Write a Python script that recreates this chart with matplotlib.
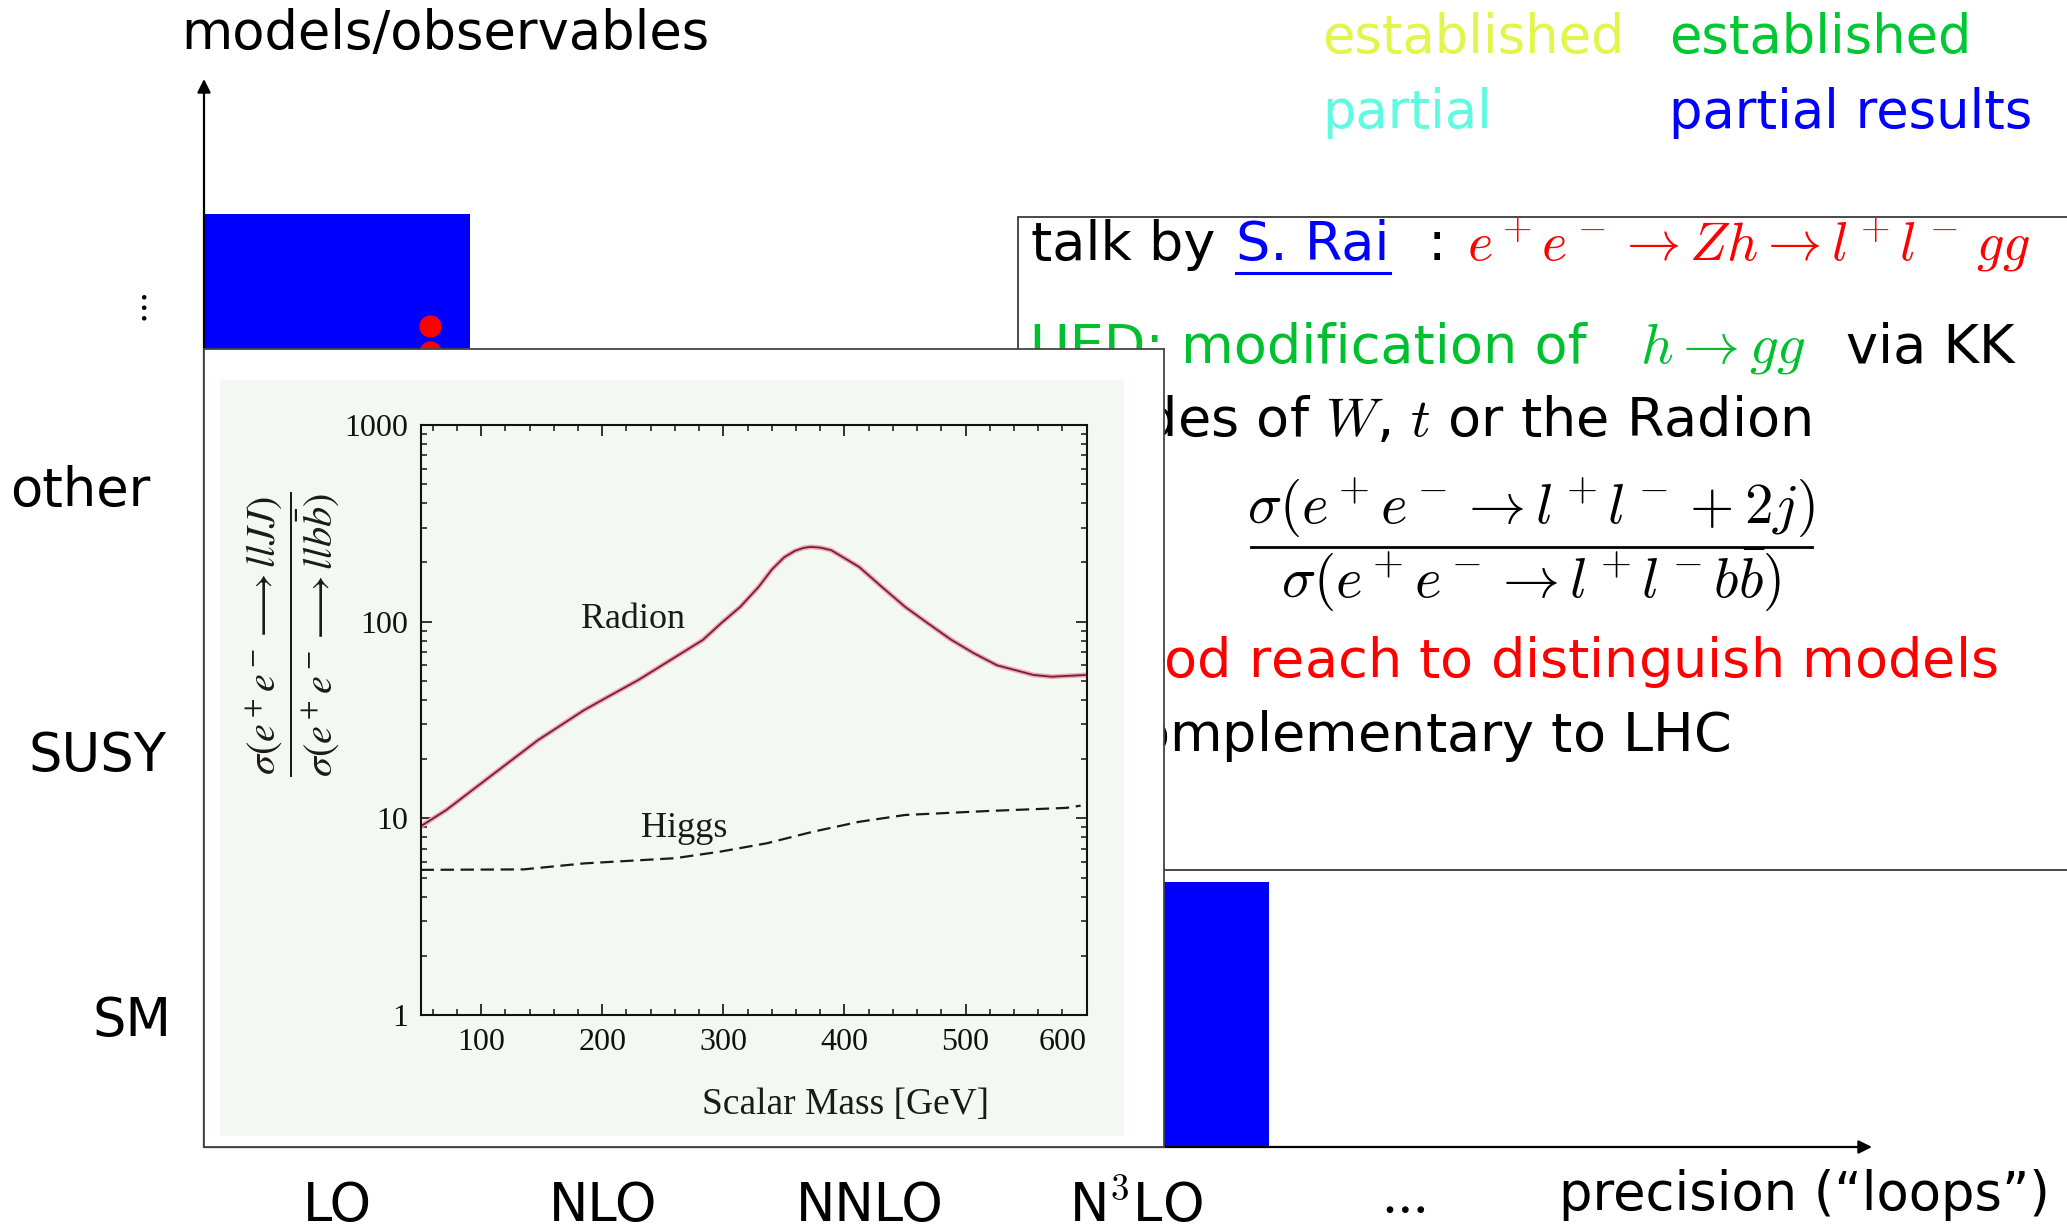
import numpy as np
import matplotlib
matplotlib.use('Agg')
import matplotlib.pyplot as plt
from matplotlib.lines import Line2D
from matplotlib.patches import Rectangle
from matplotlib.ticker import MultipleLocator, NullFormatter

plt.rcParams['font.family'] = ['DejaVu Sans']
plt.rcParams['mathtext.fontset'] = 'cm'

# ---- data ----
columns = ['LO', 'NLO', 'NNLO', r'N$^3$LO', r'$\cdots$']
rows = ['SM', 'SUSY', 'other', r'$\vdots$']

# blue cells (column index, top of the cell in row units)
bar_col = [0, 3]
bar_top = [3.52, 1.0]

# red dots in the LO column
dot_x = [0.85, 0.85]
dot_y = [3.10, 3.00]

legend_text = ['established', 'established', 'partial', 'partial results']
legend_col = ['#e1f54b', '#00c832', '#5ffae1', '#0000ff']

# inset: sigma ratio vs scalar mass
mass_radion = [50, 71, 109, 147, 185, 200, 230, 283, 298, 314, 329, 340, 350, 359, 366, 372,
               380, 389, 412, 431, 450, 469, 488, 507, 526, 556, 571, 600]
ratio_radion = [9.1, 11.0, 16.6, 25, 35.5, 40, 50.6, 80.7, 98, 119, 150, 184, 212, 229, 237, 240,
                238, 231, 190, 150, 119, 98, 81, 69, 60, 53.6, 52.5, 53.6]
mass_higgs = [50, 135, 185, 260, 298, 336, 374, 412, 450, 519, 583, 595]
ratio_higgs = [5.47, 5.5, 5.9, 6.27, 6.78, 7.47, 8.55, 9.6, 10.4, 10.9, 11.3, 11.6]
mass_ticks = [100, 200, 300, 400, 500, 600]
ratio_ticks = [1, 10, 100, 1000]

# ---- layout helpers (pixel coords, origin top-left) ----
W, H = 2067, 1229
def box(x0, y0, x1, y1):
    return [x0 / W, 1 - y1 / H, (x1 - x0) / W, (y1 - y0) / H]
def pt(x, y):
    return x / W, 1 - y / H

fig = plt.figure(figsize=(W / 100, H / 100), dpi=100)
fig.patch.set_facecolor('white')

FS = 38      # slide text
FS_BOX = 39  # text in the box
FS_MATH = 41

def ftext(x, y, s, **kw):
    kw.setdefault('va', 'baseline')
    kw.setdefault('fontsize', FS)
    return fig.text(*pt(x, y), s, **kw)

# ---- main "chart" ----
col_w, row_h = 266.3, 265.0
ax = fig.add_axes(box(204, 79, 1872, 1147))
ax.set_xlim(0, 1668 / col_w)
ax.set_ylim(0, 1068 / row_h)
ax.axis('off')
arrow = dict(arrowstyle='-|>', color='black', lw=1.6, mutation_scale=20, shrinkA=0, shrinkB=0)
ax.annotate('', xy=(0, 1), xytext=(0, 0), xycoords='axes fraction', arrowprops=arrow)
ax.annotate('', xy=(1, 0), xytext=(0, 0), xycoords='axes fraction', arrowprops=arrow)

ax.bar(bar_col, bar_top, width=1.0, align='edge', color='#0000ff', zorder=1)
ax.plot(dot_x, dot_y, 'o', color='red', ms=15, zorder=2)

lab_base = (1147 - 1221) / row_h
for i, c in enumerate(columns):
    ax.text(i + 0.5, lab_base, c, ha='center', va='baseline', fontsize=FS)

row_y = [0.5, 1.5, 2.5, 3.17]
row_x = [131.5, 97.5, 80, 141]
for lab, y, xp in zip(rows, row_y, row_x):
    if lab.startswith('$'):
        ax.text((xp - 204) / col_w, y, lab, ha='center', va='center', fontsize=26)
    else:
        ax.text((xp - 204) / col_w, y - 0.081, lab, ha='center', va='baseline', fontsize=FS)

ftext(2050, 1210, 'precision (“loops”)', ha='right')
ftext(181, 49, 'models/observables')

for i, (t, c) in enumerate(zip(legend_text, legend_col)):
    ftext([1322, 1669][i % 2], [53, 128][i // 2], t, color=c)

# ---- text box on the right ----
fig.add_artist(Rectangle(pt(1018, 870), (2090 - 1018) / W, (870 - 217) / H,
                         transform=fig.transFigure, facecolor='white',
                         edgecolor='#3a3a3a', lw=1.3, zorder=1))
ftext(1031, 260, 'talk by', fontsize=FS_BOX, zorder=3)
rai = ftext(1236, 260, 'S. Rai', color='#0000ff', fontsize=FS_BOX, zorder=3)
ftext(1428, 260, ':', fontsize=FS_BOX, zorder=3)
ftext(1467, 260, r'$e^+e^-\to Zh\to l^+l^-\,gg$', color='red', fontsize=39, zorder=3)

ftext(1030, 363, 'UED: modification of', color='#00c030', fontsize=FS_BOX, zorder=3)
ftext(1640, 363, r'$h\to gg$', color='#00c030', fontsize=FS_MATH, zorder=3)
ftext(1846, 363, 'via KK', fontsize=FS_BOX, zorder=3)
ftext(1811, 436, r'modes of $W$, $t$ or the Radion', ha='right', fontsize=FS_BOX, zorder=3)

ftext(1531, 523, r'$\sigma(e^+e^-\to l^+l^-+2j)$', ha='center', fontsize=FS_MATH, zorder=3)
fig.add_artist(Line2D([1251 / W, 1812 / W], [1 - 547 / H] * 2, color='black', lw=2.0,
                      transform=fig.transFigure, zorder=3))
ftext(1531, 597, r'$\sigma(e^+e^-\to l^+l^-b\bar{b})$', ha='center', fontsize=FS_MATH, zorder=3)

ftext(1998, 677, r'$\Rightarrow$ good reach to distinguish models', ha='right', color='red',
      fontsize=FS_BOX, zorder=3)
ftext(1730, 751, r'$\Rightarrow$ complementary to LHC', ha='right', fontsize=FS_BOX, zorder=3)

# ---- inset (scanned plot) ----
panel = fig.add_axes(box(204, 349, 1164, 1147), zorder=10)
panel.set_facecolor('white')
panel.set_xticks([]); panel.set_yticks([])
for s in panel.spines.values():
    s.set_color('#444444'); s.set_linewidth(1.3)

scan_bg = '#f4f8f2'
scan = fig.add_axes(box(220, 380, 1124, 1136), zorder=10.2)
scan.set_facecolor(scan_bg)
scan.set_xticks([]); scan.set_yticks([])
for s in scan.spines.values():
    s.set_visible(False)

axi = fig.add_axes(box(420.6, 425, 1086.7, 1015), zorder=10.4)
axi.set_facecolor(scan_bg)
axi.plot(mass_radion, ratio_radion, color='#f4a6b8', lw=3.5, solid_capstyle='round')
axi.plot(mass_radion, ratio_radion, color='#6e2433', lw=1.3)
axi.plot(mass_higgs, ratio_higgs, color='#1a1a1a', lw=1.6, dashes=(6, 3))
axi.set_yscale('log')
axi.set_xlim(50, 600)
axi.set_ylim(1, 1000)
serif = 'Liberation Serif'
axi.set_xticks(mass_ticks, labels=[str(m) for m in mass_ticks], fontfamily=serif, fontsize=23)
axi.set_yticks(ratio_ticks, labels=[str(r) for r in ratio_ticks], fontfamily=serif, fontsize=23)
axi.get_xticklabels()[-1].set_horizontalalignment('right')
axi.xaxis.set_minor_locator(MultipleLocator(20))
axi.yaxis.set_minor_formatter(NullFormatter())
axi.tick_params(which='both', direction='in', top=True, right=True, colors='#111111', pad=9)
axi.tick_params(which='major', length=8, width=1.2)
axi.tick_params(which='minor', length=4, width=1.1)
for s in axi.spines.values():
    s.set_linewidth(1.5); s.set_color('#111111')
axi.text(225, 102, 'Radion', ha='center', va='center', fontsize=26, fontfamily=serif, color='#1a1a1a')
axi.text(268, 8.9, 'Higgs', ha='center', va='center', fontsize=26, fontfamily=serif, color='#1a1a1a')

ftext(846, 1105, 'Scalar Mass [GeV]', ha='center', va='center', fontsize=27,
      fontfamily=serif, color='#1a1a1a', zorder=12)
ftext(292, 634, r'$\dfrac{\sigma(e^+e^-\longrightarrow llJJ)}{\sigma(e^+e^-\longrightarrow llb\bar{b})}$',
      ha='center', va='center', rotation=90, fontsize=29, math_fontfamily='stix',
      color='#1a1a1a', zorder=12)

# underline under the speaker name
fig.canvas.draw()
bb = rai.get_window_extent(fig.canvas.get_renderer())
fig.add_artist(Line2D([bb.x0 / W, bb.x1 / W], [1 - 273 / H] * 2, color='#0000ff', lw=2.2,
                      transform=fig.transFigure, zorder=3))

fig.savefig('out.png', dpi=100)
